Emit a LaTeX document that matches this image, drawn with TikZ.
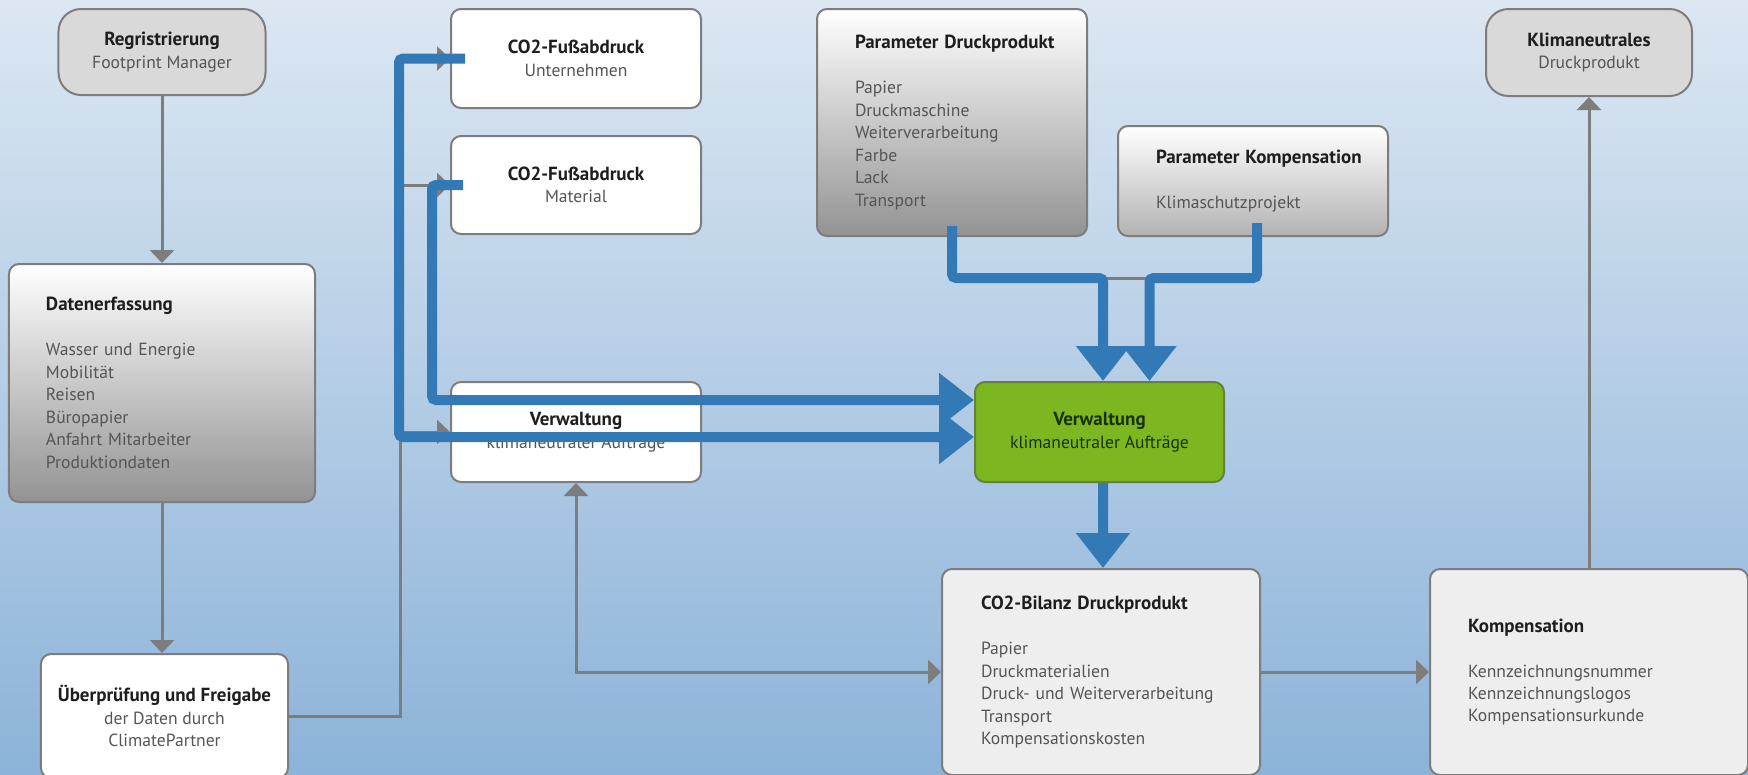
\documentclass[tikz,border=0pt]{standalone}
\usepackage{fontspec}
\setmainfont{PT Sans}
\usetikzlibrary{arrows.meta}
\definecolor{bgtop}{RGB}{220,231,242}
\definecolor{bgbot}{RGB}{140,179,217}
\definecolor{boxline}{RGB}{125,125,125}
\definecolor{txtgray}{RGB}{85,85,85}
\definecolor{ttlgray}{RGB}{30,30,30}
\definecolor{flowblue}{RGB}{50,121,182}
\definecolor{leaf}{RGB}{124,183,34}
\definecolor{leafline}{RGB}{100,130,60}
\definecolor{leaftext}{RGB}{25,50,5}
\newcommand{\boxtitle}[1]{\mbox{\fontsize{10.8}{12.8}\selectfont\bfseries\color{ttlgray}#1}}

\begin{document}
\begin{tikzpicture}[x=0.2mm, y=-0.2mm,
    every node/.style={font=\fontsize{10}{12.8}\selectfont, text=txtgray},
    box/.style={draw=boxline, line width=0.4mm, rounded corners=2mm, align=center, inner sep=0pt},
    pill/.style={box, rounded corners=4.5mm, fill=gray!30},
    fade/.style={box, top color=white, bottom color=gray!85, align=left},
    plain/.style={box, fill=white, minimum width=50mm},
    pale/.style={box, fill=gray!13, align=left},
    flow/.style={draw=boxline, line width=0.6mm, -{Triangle[width=4.8mm,length=2.6mm]}},
    bigflow/.style={draw=flowblue, line width=2mm, rounded corners=0.8mm, -{Triangle[width=10.4mm,length=7mm]}}]

    \useasboundingbox (0,0) rectangle (1748,774);
    \clip (0,0) rectangle (1748,774);
    \shade[top color=bgtop, bottom color=bgbot] (0,0) rectangle (1748,774);

    % boxes
    \node[pill, minimum width=41.4mm, minimum height=17.2mm] (regi) at (162,52) {\boxtitle{Regristrierung}\\Footprint Manager};
    \node[fade, text width=46.4mm, inner xsep=7.4mm, minimum height=47.6mm] (daten) at (162,383)
        {\boxtitle{Datenerfassung}\\[12.8pt]Wasser und Energie\\Mobilität\\Reisen\\Büropapier\\Anfahrt Mitarbeiter\\Produktiondaten};
    \node[plain, minimum width=49.4mm, minimum height=24.8mm] (ueber) at (164.5,716) {\boxtitle{Überprüfung und Freigabe}\\der Daten durch\\ClimatePartner};

    \node[plain, minimum height=19.8mm] (unter) at (576,58.5) {\boxtitle{CO2-Fußabdruck}\\Unternehmen};
    \node[plain, minimum height=19.6mm] (mat) at (576,185) {\boxtitle{CO2-Fußabdruck}\\Material};
    \node[plain, minimum height=20mm] (verw) at (576,432) {\boxtitle{Verwaltung}\\klimaneutraler Aufträge};

    \node[fade, text width=38.8mm, inner xsep=7.6mm, minimum height=45.4mm] (pdruck) at (952,122.5)
        {\boxtitle{Parameter Druckprodukt}\\[12.8pt]Papier\\Druckmaschine\\Weiterverarbeitung\\Farbe\\Lack\\Transport};
    \node[fade, bottom color=gray!60, text width=38.8mm, inner xsep=7.6mm, minimum height=22mm] (pkomp) at (1253,181)
        {\boxtitle{Parameter Kompensation}\\[12.8pt]Klimaschutzprojekt};
    \node[pill, minimum width=41.2mm, minimum height=17.4mm] (klima) at (1589,52.5) {\boxtitle{Klimaneutrales}\\Druckprodukt};

    \node[box, fill=leaf, draw=leafline, text=leaftext, minimum width=49.8mm, minimum height=20mm] (ziel) at (1099.5,432)
        {{\fontsize{10.8}{12.8}\selectfont\bfseries Verwaltung}\\klimaneutraler Aufträge};
    \node[pale, text width=48mm, inner xsep=7.8mm, minimum height=41.2mm] (bilanz) at (1101,672)
        {\boxtitle{CO2-Bilanz Druckprodukt}\\[12.8pt]Papier\\Druckmaterialien\\Druck- und Weiterverarbeitung\\Transport\\Kompensationskosten};
    \node[pale, text width=48.4mm, inner xsep=7.6mm, minimum height=41.2mm] (komp) at (1589,672)
        {\boxtitle{Kompensation}\\[12.8pt]Kennzeichnungsnummer\\Kennzeichnungslogos\\Kompensationsurkunde};

    % gray connectors
    \draw[flow] (regi) -- (daten);
    \draw[flow] (daten.south) -- (daten.south |- ueber.north);
    \foreach \t in {unter, mat, verw}
        \draw[flow] (ueber.east) -- ++(111,0) |- (\t.west);
    \draw[flow, {Triangle[width=4.8mm,length=2.6mm]}-{Triangle[width=4.8mm,length=2.6mm]}] (verw.south) |- (bilanz.west);
    \draw[flow] (bilanz) -- (komp);
    \draw[flow] (komp) -- (klima);
    \draw[flow, -] (pdruck.south) -- ++(0,41) -| (pkomp.south);

    % blue overlay
    \draw[bigflow] ([xshift=3mm]unter.west) -- ++(-66,0) |- ([yshift=-1mm]ziel.west);
    \draw[bigflow] ([xshift=2.6mm]mat.west) -- ++(-31,0) |- ([yshift=6.4mm]ziel.west);
    \draw[bigflow] ([yshift=2.2mm]pdruck.south) -- ++(0,52) -| ([xshift=0.7mm]ziel.north);
    \draw[bigflow] ([xshift=0.8mm,yshift=2.8mm]pkomp.south) -- ++(0,55) -| ([xshift=10mm]ziel.north);
    \draw[bigflow] ([xshift=0.7mm]ziel.south) -- ([xshift=0.4mm]bilanz.north);
\end{tikzpicture}
\end{document}
